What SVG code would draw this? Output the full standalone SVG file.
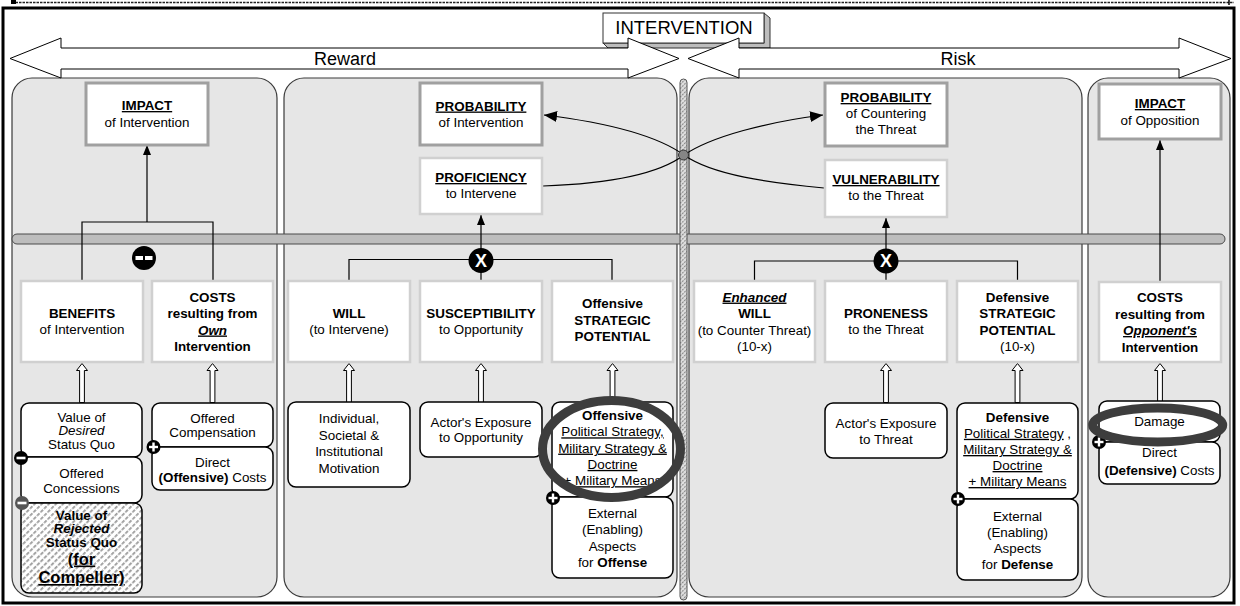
<svg xmlns="http://www.w3.org/2000/svg" width="1240" height="606" viewBox="0 0 1240 606">
<defs>
<style>
.panel{fill:#e6e6e6;stroke:#3a3a3a;stroke-width:1.2}
.hd{fill:#fff;stroke:#a0a0a0;stroke-width:3}
.md{fill:#fff;stroke:#d0d0d0;stroke-width:2.5}
.cb{fill:#fff;stroke:#000;stroke-width:1.5}
.t{font-family:"Liberation Sans",Arial,Helvetica,sans-serif;font-size:13.4px;text-anchor:middle;fill:#000}
.b{font-weight:bold}
.i{font-style:italic}
.u{text-decoration:underline}
.lg{font-size:16.5px}
.ln{fill:none;stroke:#000;stroke-width:1.2}
.ha{fill:#fff;stroke:#000;stroke-width:1}
.ring{fill:none;stroke:#3d3d3d;stroke-width:9}
.big{font-family:"Liberation Sans",Arial,Helvetica,sans-serif;font-size:18px;text-anchor:middle;fill:#000}
.band{fill:#fff;stroke:#000;stroke-width:1}
</style>
<marker id="arr" markerWidth="10" markerHeight="8" refX="10" refY="4" orient="auto" markerUnits="userSpaceOnUse"><path d="M0,0 L10,4 L0,8 Z" fill="#000"/></marker>
<marker id="arrL" markerWidth="13" markerHeight="11" refX="13" refY="5.5" orient="auto" markerUnits="userSpaceOnUse"><path d="M0,0 L13,5.5 L0,11 Z" fill="#000"/></marker>
<path id="hollow" d="M0,0 L5.5,7 L2.4,7 L2.4,39 L-2.4,39 L-2.4,7 L-5.5,7 Z"/>
<pattern id="hatch" width="5" height="5" patternUnits="userSpaceOnUse" patternTransform="rotate(45)"><rect width="5" height="5" fill="#fff"/><rect width="1.8" height="3.6" fill="#9a9a9a"/></pattern>
<pattern id="hatchS" width="3" height="3" patternUnits="userSpaceOnUse" patternTransform="rotate(45)"><rect width="3" height="3" fill="#e2e2e2"/><rect width="1.2" height="2.2" fill="#8c8c8c"/></pattern>
<g id="plus"><circle r="7" fill="#000"/><rect x="-4.5" y="-1.2" width="9" height="2.4" fill="#fff"/><rect x="-1.2" y="-4.5" width="2.4" height="9" fill="#fff"/></g>
<g id="minus"><circle r="7"/><rect x="-4.5" y="-1.3" width="9" height="2.6" fill="#fff"/></g>
<g id="times"><circle r="12.5" fill="#000"/><text y="6" class="t b" style="font-size:18px;fill:#fff">X</text></g>
</defs>

<!-- page background and frame -->
<rect width="1240" height="606" fill="#fff"/>
<line x1="12" y1="2.5" x2="1234" y2="2.5" stroke="#222" stroke-width="1.6" stroke-dasharray="2.5 1"/>
<rect x="11" y="0" width="5" height="4" fill="#000"/>
<line x1="1229" y1="0" x2="1229" y2="5" stroke="#000" stroke-width="1.5"/>
<rect x="3" y="8" width="1231" height="595" fill="#fff" stroke="#000" stroke-width="3"/>

<!-- four panels -->
<g id="panels">
<rect class="panel" x="12" y="78" width="265" height="519" rx="20"/>
<rect class="panel" x="284" y="78" width="393" height="519" rx="20"/>
<rect class="panel" x="689" y="78" width="393" height="519" rx="20"/>
<rect class="panel" x="1088" y="78" width="142" height="519" rx="20"/>
<rect x="12" y="234" width="1213" height="10" rx="5" fill="#bdbdbd" stroke="#4a4a4a" stroke-width="1"/>
<rect x="680" y="79" width="7" height="521" rx="3.5" fill="url(#hatchS)" stroke="#555" stroke-width="1"/>
</g>

<!-- connectors -->
<g id="connectors">
<path class="ln" d="M82,281 V222 H213 V281"/>
<path class="ln" d="M147,222 V145" marker-end="url(#arr)"/>
<path class="ln" d="M349,281 V259.5 H612 V281 M481,260 V281"/>
<path class="ln" d="M481,260 V215" marker-end="url(#arr)"/>
<path class="ln" d="M754.5,281 V261 H1017.5 V281 M886,261 V281"/>
<path class="ln" d="M886,261 V218" marker-end="url(#arr)"/>
<path class="ln" d="M1160,282 V140" marker-end="url(#arr)"/>
<path class="ln" d="M543,186 C600,184 655,177 684,155"/>
<path class="ln" d="M684,155 C656,135 602,122 544,115" marker-end="url(#arrL)"/>
<path class="ln" d="M824,188 C770,183 712,175 684,155"/>
<path class="ln" d="M684,155 C712,136 768,122 823,115" marker-end="url(#arrL)"/>
<circle cx="683.5" cy="155" r="5" fill="#858585" stroke="#333" stroke-width="1"/>
<use href="#hollow" class="ha" x="82" y="363.5"/>
<use href="#hollow" class="ha" x="212.5" y="363.5"/>
<use href="#hollow" class="ha" x="349" y="363.5"/>
<use href="#hollow" class="ha" x="481" y="363.5"/>
<use href="#hollow" class="ha" x="612.5" y="363.5"/>
<use href="#hollow" class="ha" x="886" y="363.5"/>
<use href="#hollow" class="ha" x="1017.5" y="363.5"/>
<use href="#hollow" class="ha" x="1160" y="363.5"/>
</g>

<!-- operators -->
<g id="op-difference">
<circle cx="144" cy="258" r="12" fill="#000"/>
<rect x="135.5" y="256" width="7.5" height="4" fill="#fff"/>
<rect x="145" y="256" width="7.5" height="4" fill="#fff"/>
</g>
<use id="op-product-reward" href="#times" x="481" y="260.5"/>
<use id="op-product-risk" href="#times" x="886" y="261"/>

<!-- reward side: impact -->
<g id="impact-intervention">
<rect class="hd" x="86" y="83" width="122" height="62"/>
<text class="t"><tspan x="147" y="110" class="b u">IMPACT</tspan><tspan x="147" y="126.7">of Intervention</tspan></text>
</g>
<g id="benefits">
<rect class="md" x="21" y="281" width="122" height="81"/>
<text class="t"><tspan x="82" y="317.8" class="b">BENEFITS</tspan><tspan x="82" y="334">of Intervention</tspan></text>
</g>
<g id="costs-own">
<rect class="md" x="152" y="281" width="121" height="81"/>
<text class="t b"><tspan x="212.5" y="301.6">COSTS</tspan><tspan x="212.5" y="318">resulting from</tspan><tspan x="212.5" y="334.5" class="i u">Own</tspan><tspan x="212.5" y="351">Intervention</tspan></text>
</g>
<g id="value-desired">
<rect class="cb" x="21" y="403" width="121" height="54" rx="8"/>
<text class="t"><tspan x="81.5" y="421.5">Value of</tspan><tspan x="81.5" y="435" class="i">Desired</tspan><tspan x="81.5" y="448.5">Status Quo</tspan></text>
</g>
<g id="offered-concessions">
<rect class="cb" x="21" y="457" width="121" height="46" rx="8"/>
<text class="t"><tspan x="81.5" y="478">Offered</tspan><tspan x="81.5" y="493">Concessions</tspan></text>
</g>
<g id="value-rejected">
<rect x="21" y="503" width="121" height="90" rx="8" fill="url(#hatch)" stroke="#000" stroke-width="1.5"/>
<text class="t b"><tspan x="81.5" y="520">Value of</tspan><tspan x="81.5" y="533" class="i">Rejected</tspan><tspan x="81.5" y="546.5">Status Quo</tspan></text>
<text class="t b u lg" x="81.5" y="564.5">(for</text>
<text class="t b u lg" x="81.5" y="583">Compeller)</text>
</g>
<g id="offered-compensation">
<rect class="cb" x="152" y="403" width="121" height="44" rx="8"/>
<text class="t"><tspan x="212.5" y="422.5">Offered</tspan><tspan x="212.5" y="437">Compensation</tspan></text>
</g>
<g id="direct-offensive-costs">
<rect class="cb" x="152" y="447" width="121" height="43" rx="8"/>
<text class="t"><tspan x="212.5" y="466.5">Direct</tspan><tspan x="212.5" y="482"><tspan class="b">(Offensive)</tspan> Costs</tspan></text>
</g>
<use href="#minus" x="21" y="458" fill="#000"/>
<use href="#minus" x="22" y="503" fill="#555"/>
<use href="#plus" x="153.5" y="447"/>

<!-- reward side: probability -->
<g id="probability-intervention">
<rect class="hd" x="420" y="83" width="122" height="62"/>
<text class="t"><tspan x="481" y="110.5" class="b u">PROBABILITY</tspan><tspan x="481" y="127">of Intervention</tspan></text>
</g>
<g id="proficiency">
<rect class="md" x="420" y="158" width="122" height="56"/>
<text class="t"><tspan x="481" y="182" class="b u">PROFICIENCY</tspan><tspan x="481" y="198">to Intervene</tspan></text>
</g>
<g id="will">
<rect class="md" x="288" y="281" width="122" height="81"/>
<text class="t"><tspan x="349" y="317.5" class="b">WILL</tspan><tspan x="349" y="334">(to Intervene)</tspan></text>
</g>
<g id="susceptibility">
<rect class="md" x="420" y="281" width="122" height="81"/>
<text class="t"><tspan x="481" y="317.5" class="b">SUSCEPTIBILITY</tspan><tspan x="481" y="334">to Opportunity</tspan></text>
</g>
<g id="offensive-potential">
<rect class="md" x="552" y="281" width="121" height="81"/>
<text class="t b"><tspan x="612.5" y="308">Offensive</tspan><tspan x="612.5" y="324.7">STRATEGIC</tspan><tspan x="612.5" y="341.4">POTENTIAL</tspan></text>
</g>
<g id="motivation">
<rect class="cb" x="288" y="402" width="122" height="85" rx="8"/>
<text class="t"><tspan x="349" y="423">Individual,</tspan><tspan x="349" y="439.5">Societal &amp;</tspan><tspan x="349" y="456">Institutional</tspan><tspan x="349" y="472.5">Motivation</tspan></text>
</g>
<g id="exposure-opportunity">
<rect class="cb" x="420" y="402" width="122" height="55" rx="8"/>
<text class="t"><tspan x="481" y="426.5">Actor's Exposure</tspan><tspan x="481" y="442">to Opportunity</tspan></text>
</g>
<g id="offensive-strategy">
<rect class="cb" x="552" y="402" width="121" height="95" rx="8"/>
<text class="t"><tspan x="612.5" y="420" class="b">Offensive</tspan><tspan x="612.5" y="436.3" class="u">Political Strategy,</tspan><tspan x="612.5" y="452.6" class="u">Military Strategy &amp;</tspan><tspan x="612.5" y="468.9" class="u">Doctrine</tspan><tspan x="612.5" y="485.2" class="u">+ Military Means</tspan></text>
</g>
<g id="external-offense">
<rect class="cb" x="552" y="497" width="121" height="81" rx="8"/>
<text class="t"><tspan x="612.5" y="518">External</tspan><tspan x="612.5" y="534.3">(Enabling)</tspan><tspan x="612.5" y="550.6">Aspects</tspan><tspan x="612.5" y="566.9">for <tspan class="b">Offense</tspan></tspan></text>
</g>
<use href="#plus" x="553" y="498"/>

<!-- risk side: probability -->
<g id="probability-countering">
<rect class="hd" x="825" y="83" width="122" height="63"/>
<text class="t"><tspan x="886" y="102" class="b u">PROBABILITY</tspan><tspan x="886" y="118">of Countering</tspan><tspan x="886" y="134">the Threat</tspan></text>
</g>
<g id="vulnerability">
<rect class="md" x="825" y="160" width="122" height="57"/>
<text class="t"><tspan x="886" y="184" class="b u">VULNERABILITY</tspan><tspan x="886" y="200">to the Threat</tspan></text>
</g>
<g id="enhanced-will">
<rect class="md" x="694" y="281" width="121" height="81"/>
<text class="t"><tspan x="754.5" y="301.6" class="b i u">Enhanced</tspan><tspan x="754.5" y="318" class="b">WILL</tspan><tspan x="754.5" y="334.5">(to Counter Threat)</tspan><tspan x="754.5" y="351">(10-x)</tspan></text>
</g>
<g id="proneness">
<rect class="md" x="825" y="281" width="122" height="81"/>
<text class="t"><tspan x="886" y="317.5" class="b">PRONENESS</tspan><tspan x="886" y="334">to the Threat</tspan></text>
</g>
<g id="defensive-potential">
<rect class="md" x="957" y="281" width="121" height="81"/>
<text class="t"><tspan x="1017.5" y="301.6" class="b">Defensive</tspan><tspan x="1017.5" y="318" class="b">STRATEGIC</tspan><tspan x="1017.5" y="334.5" class="b">POTENTIAL</tspan><tspan x="1017.5" y="351">(10-x)</tspan></text>
</g>
<g id="exposure-threat">
<rect class="cb" x="825" y="403" width="122" height="55" rx="8"/>
<text class="t"><tspan x="886" y="427.5">Actor's Exposure</tspan><tspan x="886" y="443.5">to Threat</tspan></text>
</g>
<g id="defensive-strategy">
<rect class="cb" x="957" y="403" width="121" height="96" rx="8"/>
<text class="t"><tspan x="1017.5" y="421.5" class="b">Defensive</tspan><tspan x="1017.5" y="437.8"><tspan class="u">Political Strategy</tspan> ,</tspan><tspan x="1017.5" y="454" class="u">Military Strategy &amp;</tspan><tspan x="1017.5" y="470" class="u">Doctrine</tspan><tspan x="1017.5" y="486" class="u">+ Military Means</tspan></text>
</g>
<g id="external-defense">
<rect class="cb" x="957" y="499" width="121" height="81" rx="8"/>
<text class="t"><tspan x="1017.5" y="520.5">External</tspan><tspan x="1017.5" y="536.8">(Enabling)</tspan><tspan x="1017.5" y="553">Aspects</tspan><tspan x="1017.5" y="569">for <tspan class="b">Defense</tspan></tspan></text>
</g>
<use href="#plus" x="958" y="499"/>

<!-- risk side: impact -->
<g id="impact-opposition">
<rect class="hd" x="1099" y="84" width="122" height="55"/>
<text class="t"><tspan x="1160" y="108" class="b u">IMPACT</tspan><tspan x="1160" y="124.5">of Opposition</tspan></text>
</g>
<g id="costs-opponent">
<rect class="md" x="1099" y="282" width="122" height="80"/>
<text class="t b"><tspan x="1160" y="302">COSTS</tspan><tspan x="1160" y="318.5">resulting from</tspan><tspan x="1160" y="335" class="i u">Opponent's</tspan><tspan x="1160" y="351.5">Intervention</tspan></text>
</g>
<g id="damage">
<rect class="cb" x="1099" y="401" width="121" height="41" rx="8"/>
<text class="t" x="1159.5" y="425.5">Damage</text>
</g>
<g id="direct-defensive-costs">
<rect class="cb" x="1099" y="442" width="121" height="42" rx="8"/>
<text class="t"><tspan x="1159.5" y="457">Direct</tspan><tspan x="1159.5" y="474.5"><tspan class="b">(Defensive)</tspan> Costs</tspan></text>
</g>
<use href="#plus" x="1099" y="442"/>

<!-- header: INTERVENTION block with the Reward / Risk double arrows -->
<g id="intervention">
<path d="M603,43 H764 V13 L770,18 V48 H608 Z" fill="#bdbdbd" stroke="#333" stroke-width="1"/>
<rect x="603" y="13" width="161" height="30" fill="#fff" stroke="#333" stroke-width="1"/>
<text class="big" x="684" y="34" style="font-size:18.5px">INTERVENTION</text>
</g>
<g id="reward">
<path class="band" d="M10,58.5 L61,38 V48 H628 V38 L679,58.5 L628,78 V69 H61 V78 Z"/>
<text class="big" x="345" y="65">Reward</text>
</g>
<g id="risk">
<path class="band" d="M688,58.5 L739,38 V48 H1179 V38 L1231,58.5 L1179,78 V69 H739 V78 Z"/>
<text class="big" x="958" y="65">Risk</text>
</g>

<!-- emphasis rings -->
<g id="highlights">
<ellipse class="ring" cx="611.5" cy="449" rx="69" ry="48.5"/>
<ellipse class="ring" cx="1157.7" cy="425" rx="65" ry="17"/>
</g>
</svg>
